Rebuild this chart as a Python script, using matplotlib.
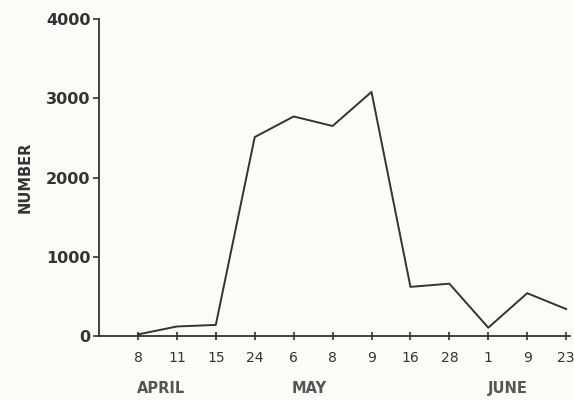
import numpy as np
import matplotlib.pyplot as plt

# sampling dates (tick labels) and counts
dates = ["8", "11", "15", "24", "6", "8", "9", "16", "28", "1", "9", "23"]
counts = [20, 120, 140, 2510, 2770, 2650, 3080, 620, 660, 105, 540, 340]
months = ["APRIL", "MAY", "JUNE"]
month_pos = [1.6, 5.4, 10.5]
yticks = [0, 1000, 2000, 3000, 4000]

ink = "#333333"
x = np.arange(1, len(dates) + 1)

fig = plt.figure(figsize=(5.74, 4.0), dpi=100, facecolor="#fbfbfa")
ax = fig.add_axes([0.1725, 0.16, 0.8206, 0.7925])
ax.set_facecolor("#fbfbfa")

ax.plot(x, counts, color=ink, lw=1.4)

ax.set_xlim(0, 12.1)
ax.set_ylim(0, 4000)
for s in ["top", "right"]:
    ax.spines[s].set_visible(False)
for s in ["left", "bottom"]:
    ax.spines[s].set_color(ink)
    ax.spines[s].set_linewidth(1.3)

ax.set_yticks(yticks)
ax.set_yticklabels([str(v) for v in yticks], fontsize=11.5, fontweight="bold", color=ink)
ax.set_xticks(x)
ax.set_xticklabels(dates, fontsize=10, color=ink)
ax.tick_params(axis="y", direction="out", length=4, width=1.2, colors=ink, pad=2)
ax.tick_params(axis="x", direction="inout", length=6, width=1.2, colors=ink, pad=8)

ax.set_ylabel("NUMBER", fontsize=10.5, fontweight="bold", color=ink, labelpad=10)

for m, p in zip(months, month_pos):
    ax.text(p, -0.165, m, transform=ax.get_xaxis_transform(), ha="center", va="center",
            fontsize=10.5, fontweight="bold", color="#555555")

fig.savefig("out.png", dpi=100, facecolor=fig.get_facecolor())
